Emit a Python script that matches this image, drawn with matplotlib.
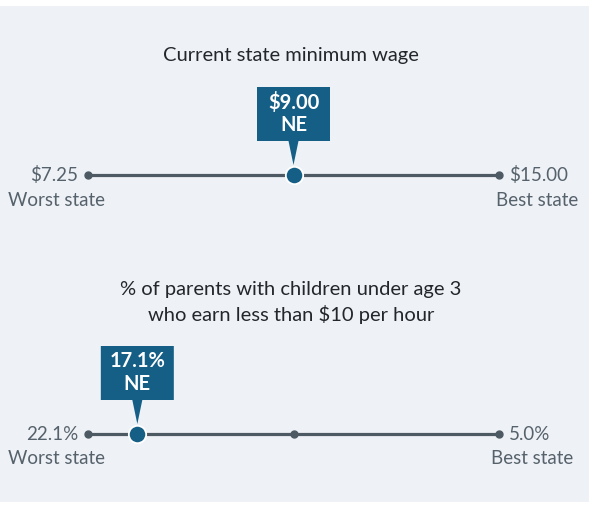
import matplotlib.pyplot as plt
import matplotlib.transforms as mtransforms
from matplotlib.patches import Rectangle, Polygon

# dados
n_estados = 51
mediana = 26

titulo_1 = 'Current state minimum wage'
valores_1 = ['$7.25', '$15.00', '$9.00']   # pior, melhor, NE
rank_ne_1 = 26

titulo_2 = '% of parents with children under age 3\nwho earn less than $10 per hour'
valores_2 = ['22.1%', '5.0%', '17.1%']
rank_ne_2 = 7

estado = 'NE'

COR_FUNDO = '#eef1f6'
COR_LINHA = '#4d5a64'
COR_TEXTO = '#56626b'
COR_TITULO = '#23272c'
COR_CAIXA = '#155e86'

plt.rcParams['font.family'] = ['Lato', 'DejaVu Sans']

W, H = 594, 508
fig = plt.figure(figsize=(W / 100, H / 100), dpi=100, facecolor='white')
fig.patches.append(Rectangle((0, 6 / H), 589 / W, 496 / H, transform=fig.transFigure,
                             facecolor=COR_FUNDO, edgecolor='none', zorder=-10))

x0, x1 = 88, 499


def painel(y_linha, titulo, y_titulo, valores, rank_ne, off_best):
    ax = fig.add_axes([x0 / W, (H - y_linha - 10) / H, (x1 - x0) / W, 20 / H])
    ax.set_xlim(1, n_estados)
    ax.set_ylim(-1, 1)
    ax.axis('off')
    ax.patch.set_alpha(0)

    ax.plot([1, n_estados], [0, 0], color=COR_LINHA, lw=2.3, solid_capstyle='butt', zorder=1)
    ax.plot([1, mediana, n_estados], [0, 0, 0], 'o', color=COR_LINHA, ms=5, zorder=2,
            clip_on=False)
    ax.plot([rank_ne], [0], 'o', color=COR_CAIXA, ms=12.5, mec='white', mew=1.3, zorder=4,
            clip_on=False)

    # caixa do estado
    trans = mtransforms.IdentityTransform() + mtransforms.ScaledTranslation(rank_ne, 0, ax.transData)
    vert = [(-36.5, 34), (-5, 34), (0, 10), (5, 34), (36.5, 34), (36.5, 88), (-36.5, 88)]
    ax.add_patch(Polygon(vert, closed=True, transform=trans, facecolor=COR_CAIXA,
                         edgecolor='none', clip_on=False, zorder=3))
    ax.annotate(valores[2], (rank_ne, 0), xytext=(0, 73), textcoords='offset pixels',
                ha='center', va='center', color='white', fontsize=14.5, fontweight='bold')
    ax.annotate(estado, (rank_ne, 0), xytext=(0, 50), textcoords='offset pixels',
                ha='center', va='center', color='white', fontsize=14.5, fontweight='bold')

    # rotulos das pontas
    ax.annotate(valores[0], (1, 0), xytext=(-10, 0), textcoords='offset pixels',
                ha='right', va='center', color=COR_TEXTO, fontsize=13.5)
    ax.annotate('Worst state', (1, 0), xytext=(-32, -25), textcoords='offset pixels',
                ha='center', va='center', color=COR_TEXTO, fontsize=13.5)
    ax.annotate(valores[1], (n_estados, 0), xytext=(10, 0), textcoords='offset pixels',
                ha='left', va='center', color=COR_TEXTO, fontsize=13.5)
    ax.annotate('Best state', (n_estados, 0), xytext=(off_best, -25), textcoords='offset pixels',
                ha='center', va='center', color=COR_TEXTO, fontsize=13.5)

    fig.text(291 / W, (H - y_titulo) / H, titulo, ha='center', va='center',
             color=COR_TITULO, fontsize=14.5, linespacing=1.5)


painel(175, titulo_1, 55, valores_1, rank_ne_1, 38)
painel(434, titulo_2, 302.5, valores_2, rank_ne_2, 33)

fig.savefig('out.png', dpi=100, facecolor=fig.get_facecolor())
